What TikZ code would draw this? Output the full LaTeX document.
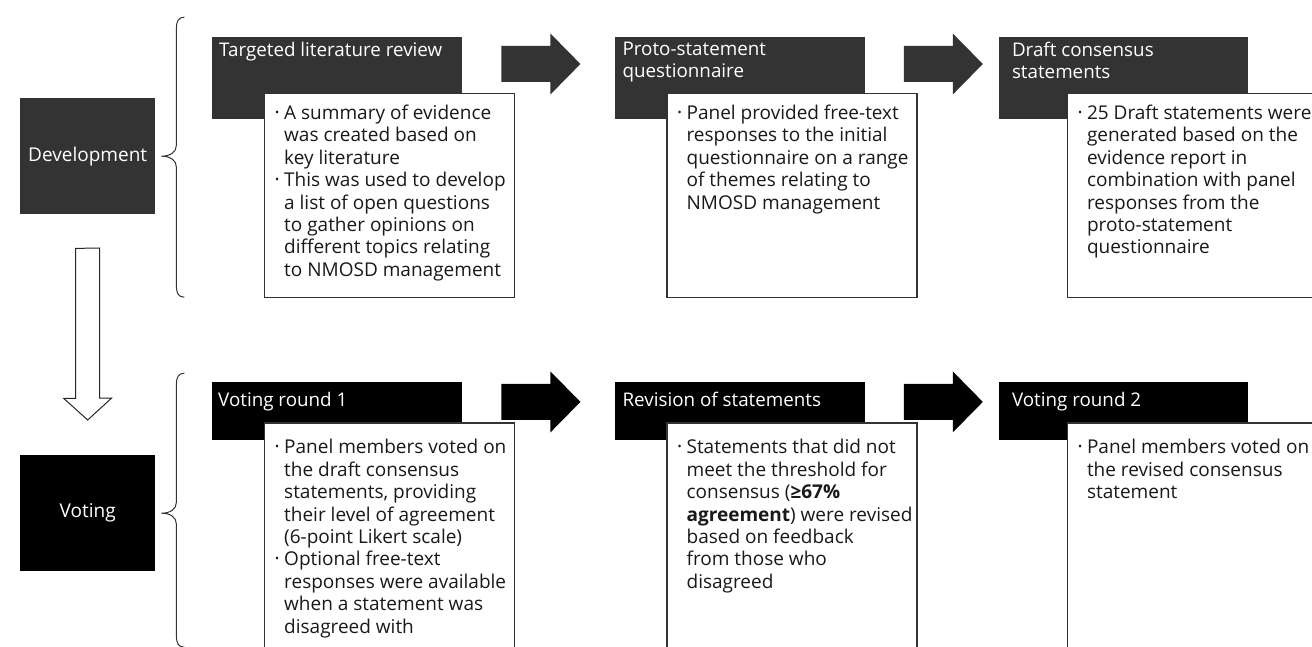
\documentclass[tikz,border=0pt]{standalone}
\usepackage{fontspec}
\setmainfont{Open Sans}
\usetikzlibrary{positioning,calc}
\definecolor{devgray}{HTML}{333333}
\newcommand{\bl}{\makebox[9pt][l]{\raisebox{3pt}{\fontsize{11}{11}\selectfont\textbullet}}}
\newcommand{\ind}{\hspace*{9pt}}

\begin{document}
\begin{tikzpicture}[
        x=1pt, y=-1pt,
        font=\fontsize{19}{22.4}\selectfont,
        stage/.style={anchor=north west, minimum width=135pt, minimum height=116pt, inner sep=0pt, text=white},
        head/.style={anchor=north west, minimum width=250pt, minimum height=82pt, inner sep=0pt},
        note/.style={anchor=north west, draw=devgray, line width=1.1pt, fill=white, minimum width=250pt, minimum height=204pt, inner sep=0pt},
        headtxt/.style={anchor=north west, align=left, inner sep=0pt, text=white, font=\fontsize{18.8}{21.8}\selectfont},
        notetxt/.style={anchor=north west, align=left, inner sep=0pt, text=black!90},
        brace/.style={draw=black!80, line width=1pt},
        hollow/.style={draw=black!85, line width=1pt, fill=white}
        ]
        \useasboundingbox (0,0) rectangle (1312,647);

        % stages
        \node[stage, fill=devgray] (dev) at (20,98) {Development};
        \node[stage, fill=black] (vot) at (20,455) {Voting};

        % headers
        \node[head, fill=devgray] (h1) at (212,37) {};
        \node[head, fill=devgray, right=152pt of h1] (h2) {};
        \node[head, fill=devgray, right=134pt of h2, minimum width=249pt] (h3) {};
        \node[head, fill=black, minimum height=58pt, below=262pt of h1] (h4) {};
        \node[head, fill=black, minimum height=58pt, right=152pt of h4] (h5) {};
        \node[head, fill=black, minimum height=58pt, right=134pt of h5, minimum width=249pt] (h6) {};

        \node[headtxt] (t1) at ($(h1.north west)+(7,5)$) {Targeted literature review};
        \node[headtxt] (t2) at ($(h2.north west)+(8,5)$) {Proto-statement\\questionnaire};
        \node[headtxt] (t3) at ($(h3.north west)+(13,5)$) {Draft consensus\\statements};
        \node[headtxt] (t4) at ($(h4.north west)+(6,10.5)$) {Voting round 1};
        \node[headtxt] (t5) at ($(h5.north west)+(8,10.5)$) {Revision of statements};
        \node[headtxt] (t6) at ($(h6.north west)+(13,10.5)$) {Voting round 2};

        % notes
        \node[note] (n1) at ($(h1.north west)+(52,56)$) {};
        \node[note] (n2) at ($(h2.north west)+(52,56)$) {};
        \node[note, minimum width=260pt] (n3) at ($(h3.north west)+(68,56)$) {};
        \node[note, minimum height=240pt] (n4) at ($(h4.north west)+(52,41)$) {};
        \node[note, minimum height=240pt] (n5) at ($(h5.north west)+(52,41)$) {};
        \node[note, minimum height=240pt, minimum width=260pt] (n6) at ($(h6.north west)+(68,41)$) {};

        \node[notetxt] (m1) at ($(n1.north west)+(11,11.8)$) {\bl A summary of evidence\\ \ind was created based on\\ \ind key literature\\ \bl This was used to develop\\ \ind a list of open questions\\ \ind to gather opinions on\\ \ind different topics relating\\ \ind to NMOSD management};
        \node[notetxt] (m2) at ($(n2.north west)+(11,11.8)$) {\bl Panel provided free-text\\ \ind responses to the initial\\ \ind questionnaire on a range\\ \ind of themes relating to\\ \ind NMOSD management};
        \node[notetxt] (m3) at ($(n3.north west)+(11,11.8)$) {\bl 25 Draft statements were\\ \ind generated based on the\\ \ind evidence report in\\ \ind combination with panel\\ \ind responses from the\\ \ind proto-statement\\ \ind questionnaire};
        \node[notetxt] (m4) at ($(n4.north west)+(11,16.8)$) {\bl Panel members voted on\\ \ind the draft consensus\\ \ind statements, providing\\ \ind their level of agreement\\ \ind (6-point Likert scale)\\ \bl Optional free-text\\ \ind responses were available\\ \ind when a statement was\\ \ind disagreed with};
        \node[notetxt] (m5) at ($(n5.north west)+(11,16.8)$) {\bl Statements that did not\\ \ind meet the threshold for\\ \ind consensus (\textbf{≥67\%}\\ \ind \textbf{agreement}) were revised\\ \ind based on feedback\\ \ind from those who\\ \ind disagreed};
        \node[notetxt] (m6) at ($(n6.north west)+(11,16.8)$) {\bl Panel members voted on\\ \ind the revised consensus\\ \ind statement};

        % block arrows
        \foreach \a/\dy/\c in {h1/27/devgray, h2/27/devgray, h4/20.5/black, h5/20.5/black}
          \fill[\c] ($(\a.north east)+(39,\dy)$) -- ++(0,-18) -- ++(49,0) -- ++(0,-12.5) -- ++(30,30.5) -- ++(-30,30.5) -- ++(0,-12.5) -- ++(-49,0) -- cycle;

        % down arrow
        \draw[hollow] ($(dev.south)+(-12,34)$) -- ++(0,150) -- ++(-12,0) -- ($(vot.north)+(0,-35)$) -- ++(24,-22) -- ++(-12,0) -- ++(0,-150) -- cycle;

        % braces
        \foreach \s/\a/\b in {dev/139/141, vot/140/134} {
          \begin{scope}[shift={(\s.east)}]
            \draw[brace] (29,-\a) .. controls (23,-\a) and (21,-\a+4) .. (21,-\a+11) -- (21,-11) .. controls (21,-4) and (15,0) .. (6,0) .. controls (15,0) and (21,4) .. (21,11) -- (21,\b-11) .. controls (21,\b-4) and (23,\b) .. (29,\b);
          \end{scope}
        }
    \end{tikzpicture}
\end{document}
